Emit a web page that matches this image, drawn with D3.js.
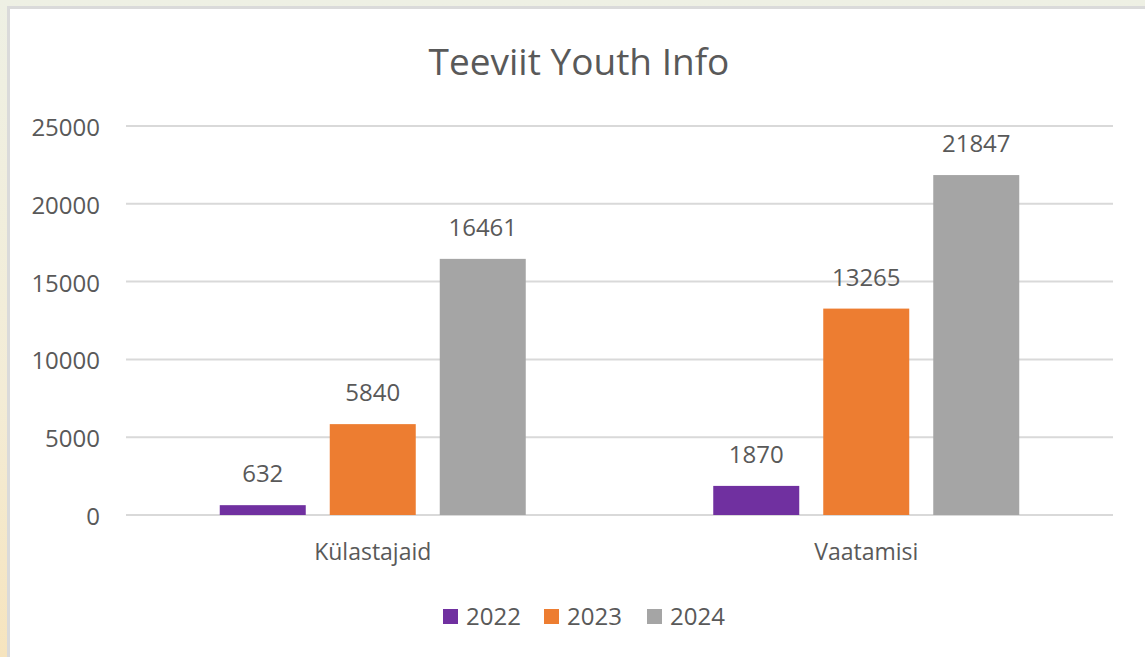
<!DOCTYPE html>
<html>
<head>
<meta charset="utf-8">
<script src="https://cdn.jsdelivr.net/npm/d3@7"></script>
<style>
  body { margin: 0; background: linear-gradient(180deg, #eef0e4 0%, #f3ecd6 60%, #f6e4be 100%); }
  svg { display: block; }
</style>
</head>
<body>
<script>
const categories = ["Külastajaid", "Vaatamisi"];
const years = ["2022", "2023", "2024"];
const values2022 = [632, 1870];
const values2023 = [5840, 13265];
const values2024 = [16461, 21847];
const yTicks = [0, 5000, 10000, 15000, 20000, 25000];
const colors = ["#7030A0", "#ED7D31", "#A5A5A5"];

const series = [values2022, values2023, values2024];

const width = 1145, height = 657;
const font = "'Open Sans', sans-serif";
const textColor = "#595959";

const svg = d3.select("body").append("svg")
    .attr("width", width)
    .attr("height", height);

// chart frame
svg.append("rect")
    .attr("x", 8.5).attr("y", 7.5)
    .attr("width", width + 10).attr("height", height + 10)
    .attr("fill", "#fff")
    .attr("stroke", "#dadada")
    .attr("stroke-width", 3);

const plotLeft = 126, plotRight = 1113, plotTop = 126, plotBottom = 515;

const y = d3.scaleLinear().domain([0, 25000]).range([plotBottom, plotTop]);
const x0 = d3.scaleBand().domain(categories).range([plotLeft, plotRight]);
const x1 = d3.scaleBand().domain(years)
    .range([0, 306])
    .paddingInner(24 / 110);

// gridlines
svg.append("g")
    .selectAll("line")
    .data(yTicks)
    .enter()
    .append("line")
    .attr("x1", plotLeft).attr("x2", plotRight)
    .attr("y1", d => y(d)).attr("y2", d => y(d))
    .attr("stroke", "#d9d9d9")
    .attr("stroke-width", 2);

// y tick labels
svg.append("g")
    .selectAll("text")
    .data(yTicks)
    .enter()
    .append("text")
    .attr("x", 100)
    .attr("y", d => y(d) + 10)
    .attr("text-anchor", "end")
    .attr("font-family", font)
    .attr("font-size", 24)
    .attr("fill", textColor)
    .text(d => d);

// bars
const groups = svg.append("g")
    .selectAll("g")
    .data(categories)
    .enter()
    .append("g")
    .attr("transform", d => "translate(" + (x0(d) + x0.bandwidth() / 2 - 153) + ",0)");

groups.selectAll("rect")
    .data((d, i) => years.map((yr, j) => ({ yr: yr, v: series[j][i], c: colors[j] })))
    .enter()
    .append("rect")
    .attr("x", d => x1(d.yr))
    .attr("width", x1.bandwidth())
    .attr("y", d => y(d.v))
    .attr("height", d => plotBottom - y(d.v))
    .attr("fill", d => d.c);

groups.selectAll("text")
    .data((d, i) => years.map((yr, j) => ({ yr: yr, v: series[j][i] })))
    .enter()
    .append("text")
    .attr("x", d => x1(d.yr) + x1.bandwidth() / 2)
    .attr("y", d => y(d.v) - 23)
    .attr("text-anchor", "middle")
    .attr("font-family", font)
    .attr("font-size", 24)
    .attr("fill", textColor)
    .text(d => d.v);

// category labels
svg.append("g")
    .selectAll("text")
    .data(categories)
    .enter()
    .append("text")
    .attr("x", d => x0(d) + x0.bandwidth() / 2)
    .attr("y", 560)
    .attr("text-anchor", "middle")
    .attr("font-family", font)
    .attr("font-size", 23)
    .attr("fill", textColor)
    .text(d => d);

// title
svg.append("text")
    .attr("x", 579)
    .attr("y", 75)
    .attr("text-anchor", "middle")
    .attr("font-family", font)
    .attr("font-size", 37)
    .attr("fill", textColor)
    .text("Teeviit Youth Info");

// legend
const legendX = [443, 544, 647];
const legend = svg.append("g")
    .selectAll("g")
    .data(years)
    .enter()
    .append("g")
    .attr("transform", (d, i) => "translate(" + legendX[i] + ",609)");

legend.append("rect")
    .attr("width", 15).attr("height", 15)
    .attr("fill", (d, i) => colors[i]);

legend.append("text")
    .attr("x", 23)
    .attr("y", 16)
    .attr("font-family", font)
    .attr("font-size", 24)
    .attr("fill", textColor)
    .text(d => d);
</script>
</body>
</html>
